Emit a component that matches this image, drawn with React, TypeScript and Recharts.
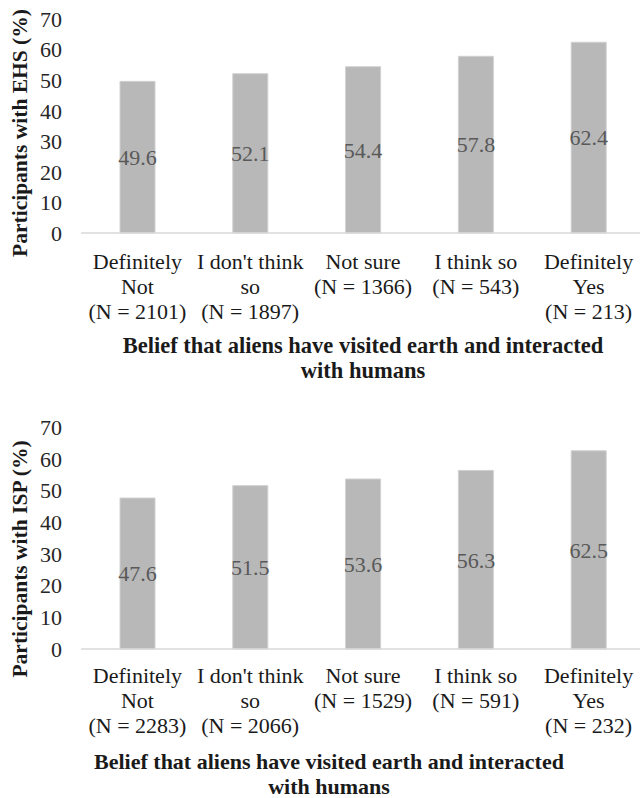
import React from "react";
import { BarChart, Bar, XAxis, YAxis, LabelList } from "recharts";

const FONT = "Liberation Serif, Tinos, Times New Roman, DejaVu Serif, Noto Serif, serif";

const topCategories = [
  "Definitely\nNot\n(N = 2101)",
  "I don't think\nso\n(N = 1897)",
  "Not sure\n(N = 1366)",
  "I think so\n(N = 543)",
  "Definitely\nYes\n(N = 213)",
];
const topValues = [49.6, 52.1, 54.4, 57.8, 62.4];

const bottomCategories = [
  "Definitely\nNot\n(N = 2283)",
  "I don't think\nso\n(N = 2066)",
  "Not sure\n(N = 1529)",
  "I think so\n(N = 591)",
  "Definitely\nYes\n(N = 232)",
];
const bottomValues = [47.6, 51.5, 53.6, 56.3, 62.5];

const yTicks = [0, 10, 20, 30, 40, 50, 60, 70];
const xTitleLines = ["Belief that aliens have visited earth and interacted", "with humans"];
const topYLabel = "Participants with EHS (%)";
const bottomYLabel = "Participants with ISP (%)";

type PanelProps = {
  categories: string[];
  values: number[];
  yLabel: string;
  height: number;
  marginTop: number;
  xAxisHeight: number;
  tickDy: number;
  titleDy: number;
  titleShift: number;
  titleSize: number;
  yLabelCenter: number;
};

const makeTick = (firstDy: number) => (props: any) => {
  const { x, y, payload } = props;
  const lines = String(payload.value).split("\n");
  return (
    <g>
      <text
        x={x}
        y={y}
        textAnchor="middle"
        style={{ fontFamily: FONT, fontSize: 22 }}
        fill="#1a1a1a"
      >
        {lines.map((l, i) => (
          <tspan key={i} x={x} dy={i === 0 ? firstDy : 25}>
            {l}
          </tspan>
        ))}
      </text>
    </g>
  );
};

const Panel = (p: PanelProps) => {
  const data = p.categories.map((c, i) => ({ name: c, value: p.values[i] }));
  const Tick = makeTick(p.tickDy);
  return (
    <BarChart
      width={645}
      height={p.height}
      data={data}
      margin={{ top: p.marginTop, right: 0, bottom: 0, left: 0 }}
      style={{ fontFamily: FONT }}
    >
      <XAxis
        dataKey="name"
        interval={0}
        tickLine={false}
        tickSize={0}
        tickMargin={0}
        height={p.xAxisHeight}
        axisLine={{ stroke: "#d9d9d9", strokeWidth: 1.5 }}
        tick={<Tick />}
        label={{
          content: (lp: any) => {
            const vb = lp.viewBox || { x: 0, y: 0, width: 0 };
            const cx = vb.x + vb.width / 2 + p.titleShift;
            return (
              <text
                x={cx}
                y={vb.y}
                textAnchor="middle"
                style={{ fontFamily: FONT, fontSize: p.titleSize, fontWeight: "bold" }}
                fill="#1a1a1a"
              >
                {xTitleLines.map((l, i) => (
                  <tspan key={i} x={cx} dy={i === 0 ? p.titleDy : 25}>
                    {l}
                  </tspan>
                ))}
              </text>
            );
          },
        }}
      />
      <YAxis
        width={81}
        domain={[0, 70]}
        ticks={yTicks}
        interval={0}
        axisLine={false}
        tickLine={false}
        tickSize={0}
        tickMargin={19}
        tick={{ fontSize: 22, fill: "#262626", style: { fontFamily: FONT } }}
        label={{
          content: () => (
            <text
              x={20}
              y={p.yLabelCenter}
              transform={`rotate(-90, 20, ${p.yLabelCenter})`}
              textAnchor="middle"
              dominantBaseline="central"
              style={{ fontFamily: FONT, fontSize: 21.5, fontWeight: "bold" }}
              fill="#1a1a1a"
            >
              {p.yLabel}
            </text>
          ),
        }}
      />
      <Bar dataKey="value" fill="#b8b8b8" stroke="#d0d0d0" strokeWidth={1} barSize={35} isAnimationActive={false}>
        <LabelList
          dataKey="value"
          position="center"
          fill="#595959"
          fontSize={22}
          style={{ fontFamily: FONT }}
        />
      </Bar>
    </BarChart>
  );
};

export default function App() {
  return (
    <div
      style={{
        position: "absolute",
        left: 0,
        top: 0,
        width: 640,
        height: 798,
        overflow: "hidden",
        background: "#ffffff",
        fontFamily: FONT,
      }}
    >
      <div style={{ position: "absolute", left: 0, top: 0 }}>
        <Panel
          categories={topCategories}
          values={topValues}
          yLabel={topYLabel}
          height={400}
          marginTop={19}
          xAxisHeight={167}
          tickDy={36}
          titleDy={120}
          titleShift={0}
          titleSize={22.5}
          yLabelCenter={133}
        />
      </div>
      <div style={{ position: "absolute", left: 0, top: 400 }}>
        <Panel
          categories={bottomCategories}
          values={bottomValues}
          yLabel={bottomYLabel}
          height={398}
          marginTop={27}
          xAxisHeight={149}
          tickDy={34}
          titleDy={120}
          titleShift={-34}
          titleSize={22}
          yLabelCenter={159}
        />
      </div>
    </div>
  );
}
